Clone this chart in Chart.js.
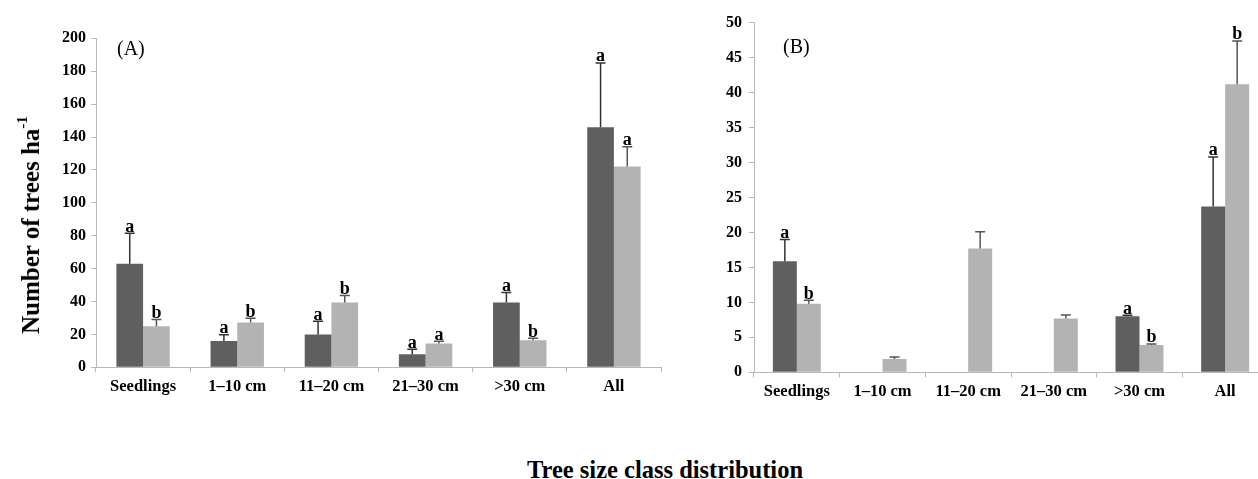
<!DOCTYPE html>
<html>
<head>
<meta charset="utf-8">
<script src="https://cdn.jsdelivr.net/npm/chart.js@4.4.1/dist/chart.umd.min.js"></script>
<style>
html, body { margin:0; padding:0; background:#fff; }
body { width:1258px; height:479px; overflow:hidden; position:relative; font-family:'Liberation Serif','Times New Roman',serif; }
#ca { position:absolute; left:0; top:0; }
#cb { position:absolute; left:640px; top:0; }
.ytitle { position:absolute; left:31px; top:225px; transform:translate(-50%,-50%) rotate(-90deg); font-weight:bold; font-size:25px; white-space:nowrap; color:#000; }
.ytitle sup { font-size:15px; vertical-align:top; position:relative; top:-3px; }
.xtitle { position:absolute; left:665px; top:470px; transform:translate(-50%,-50%); font-weight:bold; font-size:24.5px; white-space:nowrap; color:#000; }
.panel { position:absolute; font-size:20px; line-height:20px; color:#000; }
</style>
</head>
<body>
<canvas id="ca" width="680" height="420"></canvas>
<canvas id="cb" width="640" height="420"></canvas>
<div class="ytitle">Number of trees ha<sup>-1</sup></div>
<div class="xtitle">Tree size class distribution</div>
<div class="panel" style="left:117px;top:38px;">(A)</div>
<div class="panel" style="left:783px;top:36px;">(B)</div>
<script>
// ---- data ----
const categories = ['Seedlings', '1\u201310 cm', '11\u201320 cm', '21\u201330 cm', '>30 cm', 'All'];

// Panel A
const yMaxA = 200, yStepA = 20;
const darkA      = [63, 16, 20, 8, 39.4, 146];
const lightA     = [25, 27.3, 39.4, 14.5, 16.4, 122];
const errDarkA   = [18.5, 3.8, 8, 3, 6, 39];
const errLightA  = [4, 2.5, 4.2, 1.3, 1.2, 12];
const lettersDarkA  = ['a', 'a', 'a', 'a', 'a', 'a'];
const lettersLightA = ['b', 'b', 'b', 'a', 'b', 'a'];

// Panel B
const yMaxB = 50, yStepB = 5;
const darkB      = [15.9, null, null, null, 8.0, 23.7];
const lightB     = [9.8, 1.9, 17.7, 7.7, 3.9, 41.2];
const errDarkB   = [3.1, null, null, null, 0.15, 7.1];
const errLightB  = [0.5, 0.3, 2.4, 0.5, 0.15, 6.2];
const lettersDarkB  = ['a', '', '', '', 'a', 'a'];
const lettersLightB = ['b', '', '', '', 'b', 'b'];

const DARK = '#5f5f5f', LIGHT = '#b3b3b3', AXIS = '#b8b8b8';
const FONT = "'Liberation Serif', 'Times New Roman', serif";

const errPlugin = {
  id: 'errbars',
  afterDatasetsDraw(chart) {
    const ctx = chart.ctx;
    const ys = chart.scales.y;
    chart.data.datasets.forEach((ds, i) => {
      const meta = chart.getDatasetMeta(i);
      meta.data.forEach((bar, j) => {
        const v = ds.data[j];
        const e = ds.errs[j];
        if (v == null || e == null) return;
        const x = bar.x;
        const y0 = ys.getPixelForValue(v);
        const y1 = ys.getPixelForValue(v + e);
        ctx.save();
        ctx.strokeStyle = ds.errColor;
        ctx.lineWidth = 1.5;
        ctx.beginPath();
        ctx.moveTo(x, y0);
        ctx.lineTo(x, y1);
        ctx.moveTo(x - 5, y1);
        ctx.lineTo(x + 5, y1);
        ctx.stroke();
        const l = ds.letters[j];
        if (l) {
          ctx.fillStyle = '#000';
          ctx.font = 'bold 18px ' + FONT;
          ctx.textAlign = 'center';
          ctx.textBaseline = 'alphabetic';
          ctx.fillText(l, x, y1 - 1.5);
        }
        ctx.restore();
      });
    });
  }
};

function build(id, dark, light, eD, eL, lD, lL, yMax, yStep, area, W, H, yPad, catPct) {
  const tickFont = { family: FONT, weight: 'bold', size: 16.5 };
  return new Chart(document.getElementById(id), {
    type: 'bar',
    data: {
      labels: categories,
      datasets: [
        { data: dark, backgroundColor: DARK, errs: eD, letters: lD, errColor: '#333333',
          categoryPercentage: catPct, barPercentage: 1.0 },
        { data: light, backgroundColor: LIGHT, errs: eL, letters: lL, errColor: '#555555',
          categoryPercentage: catPct, barPercentage: 1.0 }
      ]
    },
    options: {
      responsive: false,
      animation: false,
      devicePixelRatio: 1,
      layout: { padding: { left: 0, top: area.top, right: W - area.right, bottom: 0 } },
      plugins: { legend: { display: false }, tooltip: { enabled: false } },
      scales: {
        x: {
          type: 'category',
          offset: true,
          grid: { display: true, drawOnChartArea: false, drawTicks: true, tickLength: 5, color: AXIS, offset: true },
          border: { display: true, color: AXIS, width: 1 },
          ticks: { color: '#000', font: tickFont, padding: 5, maxRotation: 0, autoSkip: false },
          afterFit(s) { s.height = H - area.bottom; }
        },
        y: {
          min: 0, max: yMax,
          grid: { display: true, drawOnChartArea: false, drawTicks: true, tickLength: 5, color: AXIS },
          border: { display: true, color: AXIS, width: 1 },
          ticks: { stepSize: yStep, color: '#000', font: { family: FONT, weight: 'bold', size: 16 }, padding: yPad },
          afterFit(s) { s.width = area.left; }
        }
      }
    },
    plugins: [errPlugin]
  });
}

build('ca', darkA, lightA, errDarkA, errLightA, lettersDarkA, lettersLightA, yMaxA, yStepA,
      { left: 96, right: 661, top: 38.3, bottom: 367.3 }, 680, 420, 5, 0.567);
build('cb', darkB, lightB, errDarkB, errLightB, lettersDarkB, lettersLightB, yMaxB, yStepB,
      { left: 114, right: 628, top: 22.7, bottom: 372.3 }, 640, 420, 7, 0.56);
</script>
</body>
</html>
